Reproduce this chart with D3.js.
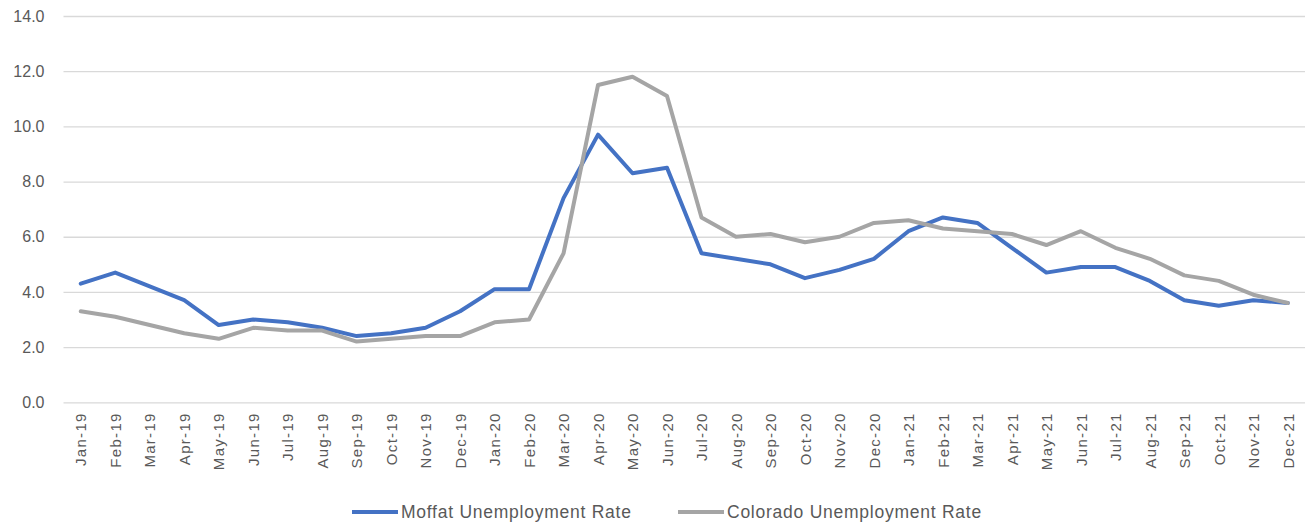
<!DOCTYPE html>
<html><head><meta charset="utf-8">
<script src="https://cdn.jsdelivr.net/npm/d3@7"></script>
<style>body{margin:0;background:#fff;}svg{display:block;font-family:"Liberation Sans",Arial,sans-serif;}</style>
</head><body><svg id="c" width="1307" height="527"></svg>
<script>
const months = ["Jan-19","Feb-19","Mar-19","Apr-19","May-19","Jun-19","Jul-19","Aug-19","Sep-19","Oct-19","Nov-19","Dec-19",
"Jan-20","Feb-20","Mar-20","Apr-20","May-20","Jun-20","Jul-20","Aug-20","Sep-20","Oct-20","Nov-20","Dec-20",
"Jan-21","Feb-21","Mar-21","Apr-21","May-21","Jun-21","Jul-21","Aug-21","Sep-21","Oct-21","Nov-21","Dec-21"];
const moffat = [4.3,4.7,4.2,3.7,2.8,3.0,2.9,2.7,2.4,2.5,2.7,3.3,4.1,4.1,7.4,9.7,8.3,8.5,5.4,5.2,5.0,4.5,4.8,5.2,6.2,6.7,6.5,5.6,4.7,4.9,4.9,4.4,3.7,3.5,3.7,3.6];
const colorado = [3.3,3.1,2.8,2.5,2.3,2.7,2.6,2.6,2.2,2.3,2.4,2.4,2.9,3.0,5.4,11.5,11.8,11.1,6.7,6.0,6.1,5.8,6.0,6.5,6.6,6.3,6.2,6.1,5.7,6.2,5.6,5.2,4.6,4.4,3.9,3.6];
const yTicks = [0,2,4,6,8,10,12,14];
const seriesNames = ["Moffat Unemployment Rate","Colorado Unemployment Rate"];
const colors = ["#4472C4","#A5A5A5"];

const svg = d3.select("#c");
const mL = 63.5, mR = 1305, mT = 16, mB = 402.3;
const x = d3.scalePoint().domain(months).range([mL, mR]).padding(0.5);
const y = d3.scaleLinear().domain([0,14]).range([mB, mT]);

const yAxis = svg.append("g").attr("transform",`translate(${mL},0)`)
  .call(d3.axisLeft(y).tickValues(yTicks).tickFormat(d3.format(".1f")).tickSize(-(mR-mL)).tickPadding(19));
yAxis.select(".domain").remove();
yAxis.selectAll(".tick line").attr("stroke","#D9D9D9").attr("stroke-width",1.3);
yAxis.selectAll(".tick text").attr("fill","#595959").style("font-size","16px");

const xAxis = svg.append("g").attr("transform",`translate(0,${mB})`)
  .call(d3.axisBottom(x).tickSize(0).tickPadding(0));
xAxis.select(".domain").remove();
xAxis.selectAll(".tick text")
  .attr("transform","rotate(-90)")
  .attr("text-anchor","end").attr("dy","0.35em").attr("x",-10).attr("y",0)
  .attr("fill","#595959").style("font-size","15px").style("letter-spacing","1.3px");

const line = d3.line().x((d,i)=>x(months[i])).y(d=>y(d));
[moffat, colorado].forEach((s,k)=>{
  svg.append("path").datum(s).attr("d",line).attr("fill","none")
    .attr("stroke",colors[k]).attr("stroke-width",4).attr("stroke-linejoin","round").attr("stroke-linecap","round");
});

const legendItems = [{x:352,name:seriesNames[0],c:colors[0]},{x:678,name:seriesNames[1],c:colors[1]}];
const lg = svg.append("g");
legendItems.forEach(it=>{
  lg.append("line").attr("x1",it.x).attr("x2",it.x+46).attr("y1",512).attr("y2",512)
    .attr("stroke",it.c).attr("stroke-width",4);
  lg.append("text").attr("x",it.x+49).attr("y",512).attr("dy","0.35em")
    .attr("fill","#595959").style("font-size","17.5px").style("letter-spacing","0.75px").text(it.name);
});
</script></body></html>
